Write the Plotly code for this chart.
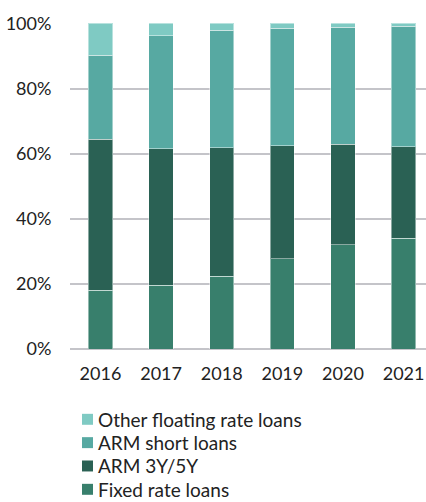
import plotly.graph_objects as go

# Loan portfolio composition by year (share of total, %)
years = ["2016", "2017", "2018", "2019", "2020", "2021"]
fixed_rate = [18.0, 19.6, 22.4, 27.7, 32.0, 34.0]
arm_3y_5y = [46.5, 41.9, 39.4, 34.7, 30.9, 28.1]
arm_short = [25.7, 34.7, 36.1, 36.1, 36.0, 37.1]
other_floating = [9.8, 3.8, 2.1, 1.5, 1.1, 0.8]
y_ticks = [0, 20, 40, 60, 80, 100]
y_tick_labels = ["0%", "20%", "40%", "60%", "80%", "100%"]

series = [
    ("Fixed rate loans", fixed_rate, "#387F6C"),
    ("ARM 3Y/5Y", arm_3y_5y, "#2A6154"),
    ("ARM short loans", arm_short, "#57A9A2"),
    ("Other floating rate loans", other_floating, "#7FCAC3"),
]

font_family = "Lato, sans-serif"
grid_color = "#c4c4c9"

# plot area in pixels, used to place the legend block below the axes
PLOT_LEFT, PLOT_RIGHT, PLOT_TOP, PLOT_BOTTOM = 70, 426, 22.6, 349.5


def px_to_paper(px, py):
    return ((px - PLOT_LEFT) / (PLOT_RIGHT - PLOT_LEFT),
            (PLOT_BOTTOM - py) / (PLOT_BOTTOM - PLOT_TOP))


fig = go.Figure()
for name, vals, color in series:
    fig.add_trace(go.Bar(
        x=years, y=vals, name=name,
        marker=dict(color=color, line=dict(color="rgba(255,255,255,0.45)", width=1)),
        width=0.4,
    ))

# legend block: top entry is the last series in the stack
for row, (name, vals, color) in enumerate(reversed(series)):
    cy = 420 + row * 23.4
    x0, y0 = px_to_paper(82, cy + 5.5)
    x1, y1 = px_to_paper(93, cy - 5.5)
    fig.add_shape(type="rect", xref="paper", yref="paper",
                  x0=x0, y0=y0, x1=x1, y1=y1,
                  fillcolor=color, line=dict(width=0))
    tx, ty = px_to_paper(96, cy)
    fig.add_annotation(xref="paper", yref="paper", x=tx, y=ty,
                       xanchor="left", yanchor="middle", showarrow=False,
                       text=name, font=dict(family=font_family, size=19, color="#222222"))

fig.update_layout(
    template="none",
    barmode="stack",
    width=426, height=502,
    margin=dict(l=PLOT_LEFT, r=426 - PLOT_RIGHT, t=PLOT_TOP, b=502 - PLOT_BOTTOM, autoexpand=False),
    paper_bgcolor="white", plot_bgcolor="white",
    font=dict(family=font_family, size=18, color="#222222"),
    showlegend=False,
    xaxis=dict(
        type="category", range=[-0.503, 5.37],
        showgrid=False, showline=False, zeroline=False, ticks="",
        ticklabelstandoff=12, automargin=False,
    ),
    yaxis=dict(
        range=[0, 100.15], tickmode="array", tickvals=y_ticks, ticktext=y_tick_labels,
        showgrid=True, gridcolor=grid_color, gridwidth=2,
        zeroline=True, zerolinecolor=grid_color, zerolinewidth=2,
        showline=False, ticks="outside", ticklen=14, tickcolor="rgba(0,0,0,0)",
        automargin=False,
    ),
)

fig.write_html("out.html")
